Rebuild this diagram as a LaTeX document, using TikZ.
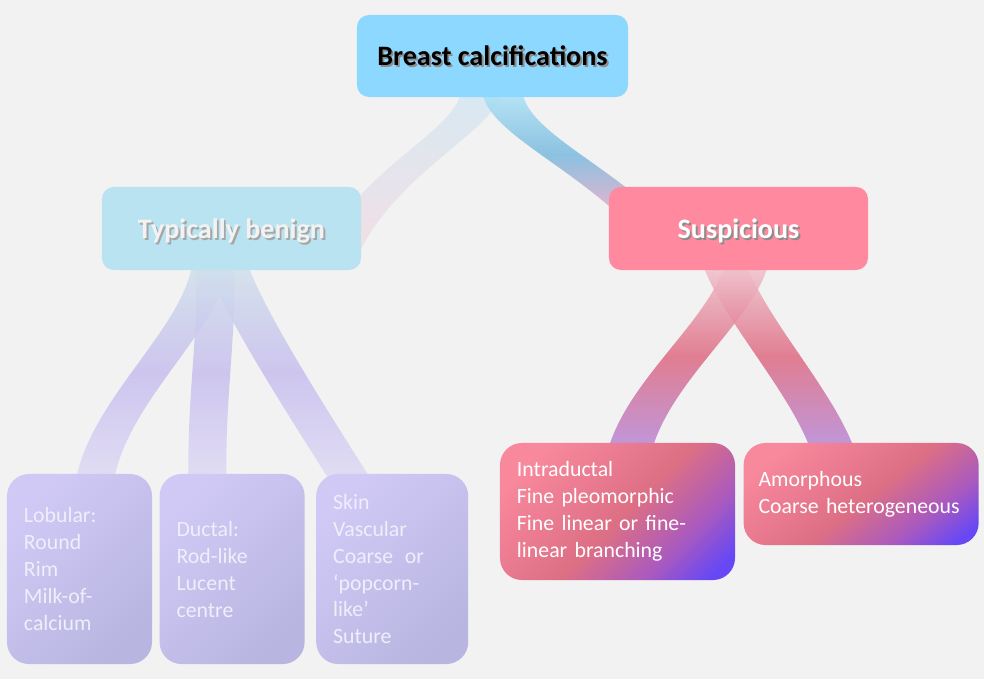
\documentclass[tikz,border=0pt]{standalone}
\usepackage{fontspec}
\setmainfont{Carlito}
\usepackage{tikz}
\usetikzlibrary{positioning, calc, backgrounds}

\definecolor{pagebg}{RGB}{242,242,242}
\definecolor{rootblue}{RGB}{141,216,255}
\definecolor{benignblue}{RGB}{185,227,240}
\definecolor{susppink}{RGB}{255,137,158}
\definecolor{lavtop}{RGB}{208,201,246}
\definecolor{lavbot}{RGB}{184,182,224}
\definecolor{leaftext}{RGB}{240,238,250}
\definecolor{rosetop}{RGB}{248,136,156}
\definecolor{rosemid}{RGB}{221,111,133}
\definecolor{rosepurple}{RGB}{170,90,190}
\definecolor{violetend}{RGB}{104,72,244}

\pgfdeclareverticalshading{rosefade}{100bp}{
  color(0bp)=(violetend); color(20bp)=(violetend); color(32bp)=(rosepurple);
  color(48bp)=(rosemid); color(76bp)=(rosetop); color(100bp)=(rosetop)}

\newcommand{\txtshadow}[2]{\rlap{\kern1.3pt\raisebox{-1.3pt}{\textcolor{#1}{#2}}}#2}

\begin{document}
\begin{tikzpicture}[
    x=0.025cm, y=-0.025cm,
    title/.style={
      rectangle, rounded corners=0.3cm, inner sep=0pt,
      minimum width=6.475cm, minimum height=2.075cm, text depth=0pt,
      font=\fontsize{20}{24}\selectfont\bfseries, align=center
    },
    leaf/.style={
      rectangle, rounded corners=0.55cm, inner xsep=0.425cm, inner ysep=0pt,
      align=left, font=\fontsize{15.5}{19.2}\selectfont
    },
    benleaf/.style={leaf, top color=lavtop, bottom color=lavbot,
                    shading angle=45, text=leaftext, minimum height=4.75cm},
    susleaf/.style={leaf, shade, shading=rosefade, shading angle=45, text=white},
    band/.style={opacity=0.85},
    rootben/.style={band, top color={rgb,255:red,212;green,232;blue,242},
                    bottom color={rgb,255:red,242;green,220;blue,228}},
    rootsus/.style={band, top color={rgb,255:red,172;green,226;blue,246},
                    bottom color={rgb,255:red,232;green,168;blue,200},
                    middle color={rgb,255:red,122;green,186;blue,222}},
    benlink/.style={band, top color={rgb,255:red,208;green,224;blue,236},
                    bottom color={rgb,255:red,222;green,218;blue,244},
                    middle color={rgb,255:red,200;green,190;blue,238}},
    suslink/.style={band, top color={rgb,255:red,240;green,196;blue,206},
                    bottom color={rgb,255:red,182;green,136;blue,218},
                    middle color={rgb,255:red,222;green,106;blue,130}}
  ]

    \useasboundingbox (0,0) rectangle (984,679);

    % Top level
    \node[title, fill=rootblue, minimum width=6.775cm, minimum height=2.05cm] (root) at (492.5,56)
      {\txtshadow{black!45}{Breast calcifications}};

    % Second level
    \node[title, fill=benignblue, text=pagebg] (benign) at (231.5,228.5)
      {\txtshadow{gray!70}{Typically benign}};
    \node[title, fill=susppink, text=white] (suspicious) at (738.5,228.5)
      {\txtshadow{black!45}{Suspicious}};

    % Benign leaves
    \node[benleaf, text width=2.775cm] (lobular) at (79.5,569)
      {Lobular:\\Round\\Rim\\Milk-of-\\calcium};
    \node[benleaf, text width=2.775cm, right=0.175cm of lobular] (ductal)
      {Ductal:\\Rod-like\\Lucent\\centre};
    \node[benleaf, text width=2.95cm, right=0.275cm of ductal] (skin)
      {Skin\\Vascular\\Coarse\hspace{3pt} or\\‘popcorn-\\like’\\Suture};

    % Suspicious leaves
    \node[susleaf, text width=5.025cm, minimum height=3.425cm] (intraductal) at (617.5,511.5)
      {Intraductal\\Fine pleomorphic\\Fine linear or fine-\\linear branching};
    \node[susleaf, shading angle=38, text width=5.125cm, inner xsep=0.375cm, minimum height=2.55cm,
          right=0.2cm of intraductal.north east, anchor=north west] (amorphous)
      {Amorphous\\Coarse~heterogeneous};

    % Ribbons
    \begin{scope}[on background layer]
      \fill[pagebg] (0,0) rectangle (984,679);

      \shade[rootben] ($(root.south)+(-32,-4)$) .. controls +(-6,37) and +(40,-80) .. ($(benign.east)+(-41,22)$)
        -- ++(40,0) .. controls +(40,-80) and +(-6,37) .. ($(root.south)+(8,-4)$) -- cycle;
      \shade[rootsus] ($(root.south)+(-10,-4)$) .. controls +(7,37) and +(-60,-55) .. ($(suspicious.west)+(11,-13)$)
        -- ++(40,0) .. controls +(-60,-55) and +(7,37) .. ($(root.south)+(30,-4)$) -- cycle;

      \shade[benlink] ($(benign.south)+(-39.5,-5)$) .. controls +(-11,65) and +(15,-80) .. ($(lobular.north)+(-3.5,6)$)
        -- ++(38,0) .. controls +(15,-80) and +(-11,65) .. ($(benign.south)+(-1.5,-5)$) -- cycle;
      \shade[benlink] ($(benign.south)+(-35.5,-5)$) .. controls +(3,65) and +(-2,-80) .. ($(ductal.north)+(-43.5,6)$)
        -- ++(38,0) .. controls +(-2,-80) and +(3,65) .. ($(benign.south)+(2.5,-5)$) -- cycle;
      \shade[benlink] ($(benign.south)+(-25.5,-5)$) .. controls +(18,50) and +(-38,-60) .. ($(skin.north)+(-63,6)$)
        -- ++(42,0) .. controls +(-38,-60) and +(18,50) .. ($(benign.south)+(16.5,-5)$) -- cycle;

      \shade[suslink] ($(suspicious.south)+(-14.5,-5)$) .. controls +(-15,55) and +(20,-70) .. ($(intraductal.north)+(-9.5,7)$)
        -- ++(44,0) .. controls +(20,-70) and +(-15,55) .. ($(suspicious.south)+(29.5,-5)$) -- cycle;
      \shade[suslink] ($(suspicious.south)+(-35.5,-5)$) .. controls +(20,55) and +(-22,-60) .. ($(amorphous.north)+(-50.5,7)$)
        -- ++(44,0) .. controls +(-22,-60) and +(20,55) .. ($(suspicious.south)+(8.5,-5)$) -- cycle;
    \end{scope}

  \end{tikzpicture}
\end{document}
